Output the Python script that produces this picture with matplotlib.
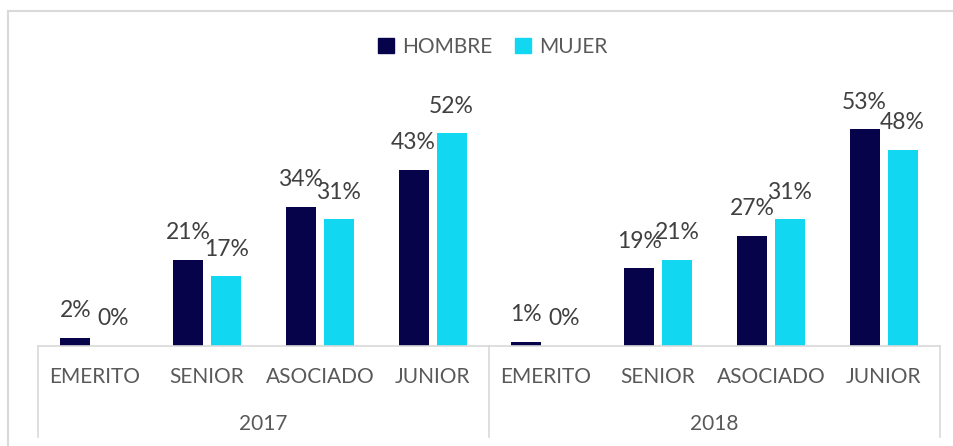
import matplotlib
matplotlib.use('Agg')
import matplotlib.pyplot as plt
from matplotlib.patches import Patch
import numpy as np

years = ['2017', '2018']
categorias = ['EMERITO', 'SENIOR', 'ASOCIADO', 'JUNIOR']
hombre = [2, 21, 34, 43, 1, 19, 27, 53]
mujer = [0, 17, 31, 52, 0, 21, 31, 48]

c_hombre = '#07034B'
c_mujer = '#12D7F1'
gris_txt = '#595959'
gris_lin = '#D9D9D9'

plt.rcParams['font.family'] = ['Lato', 'DejaVu Sans']

W, H = 954, 446
fig = plt.figure(figsize=(W / 100, H / 100), dpi=100)
ax = fig.add_axes([38 / W, (H - 346) / H, (940 - 38) / W, (346 - 80) / H])

x = np.arange(len(hombre))
bw = 0.266
off = 0.1685
b1 = ax.bar(x - off, hombre, bw, color=c_hombre)
b2 = ax.bar(x + off, mujer, bw, color=c_mujer)

for xs, vals in ((x - off, hombre), (x + off, mujer)):
    for xi, v in zip(xs, vals):
        ax.annotate(f'{v}%', (xi, v), xytext=(0, 19.5), textcoords='offset points',
                    ha='center', va='center', fontsize=16.5, color='#404040')

ax.set_xlim(-0.5, 7.5)
ax.set_ylim(0, 65)
ax.set_yticks([])
ax.set_xticks([])
for s in ['top', 'right', 'left']:
    ax.spines[s].set_visible(False)
ax.spines['bottom'].set_color(gris_lin)
ax.spines['bottom'].set_linewidth(1.2)

ah = 346 - 80
for i, xi in enumerate(x):
    ax.annotate(categorias[i % 4], (xi, 0), xycoords=('data', 'axes fraction'),
                xytext=(0, -31 * 0.72), textcoords='offset points',
                ha='center', va='center', fontsize=15, color=gris_txt)
for j, yr in enumerate(years):
    ax.annotate(yr, (j * 4 + 1.5, 0), xycoords=('data', 'axes fraction'),
                xytext=(0, -78 * 0.72), textcoords='offset points',
                ha='center', va='center', fontsize=15, color=gris_txt)

for xs in [-0.5, 3.5, 7.5]:
    ax.plot([xs, xs], [0, -91 / ah], transform=ax.get_xaxis_transform(),
            color=gris_lin, lw=1.2, clip_on=False)

# borde del grafico
fig.add_artist(plt.Line2D([8.5 / W, 8.5 / W], [0, 1 - 11 / H], color=gris_lin, lw=1.5))
fig.add_artist(plt.Line2D([8.5 / W, 1], [1 - 11 / H, 1 - 11 / H], color=gris_lin, lw=1.5))

handles = [Patch(color=c_hombre, label='HOMBRE'), Patch(color=c_mujer, label='MUJER')]
fig.legend(handles=handles, loc='center', bbox_to_anchor=(493 / W, 1 - 47 / H), ncol=2,
           frameon=False, fontsize=15, handlelength=0.75, handleheight=0.75,
           handletextpad=0.4, columnspacing=1.1, labelcolor=gris_txt)

fig.savefig('out.png', dpi=100)
